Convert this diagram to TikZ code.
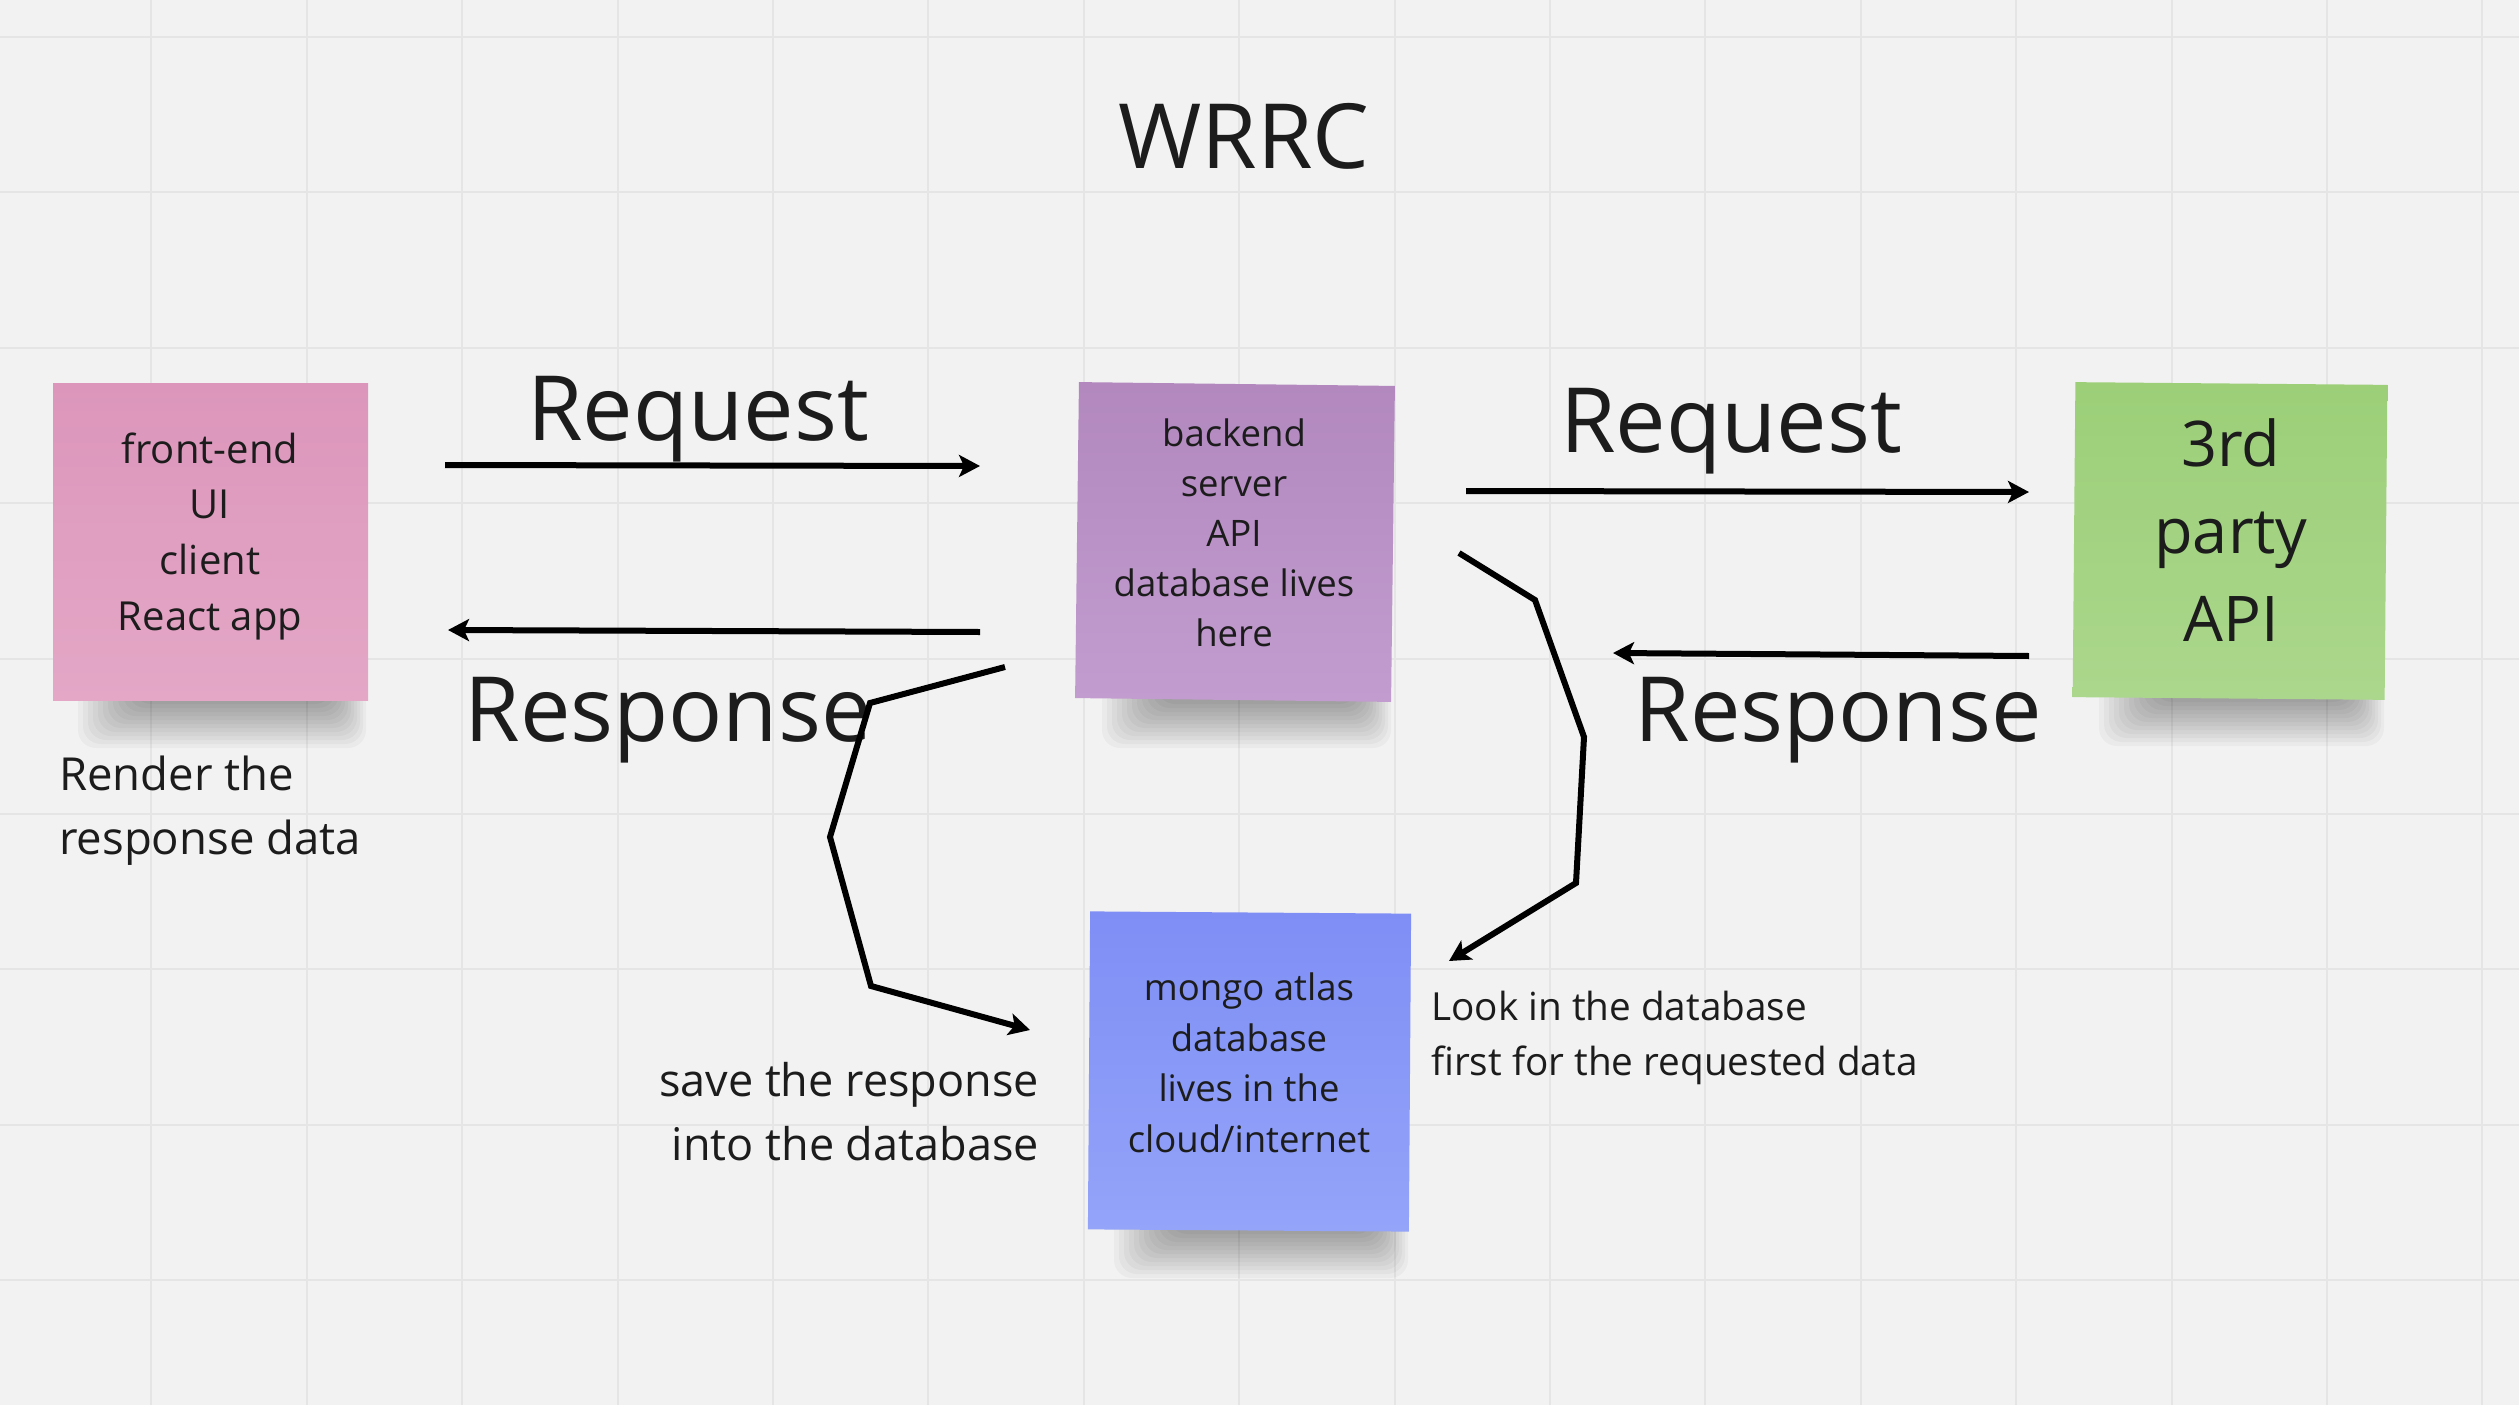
\documentclass[tikz,border=0pt]{standalone}
\usepackage{fontspec}
\setmainfont{Open Sans}
\usetikzlibrary{arrows.meta}
\definecolor{bgc}{RGB}{242,242,242}
\definecolor{gridc}{RGB}{229,229,229}
\definecolor{ink}{RGB}{28,28,28}
\definecolor{pinkT}{RGB}{220,150,187}
\definecolor{pinkB}{RGB}{228,167,198}
\definecolor{purpT}{RGB}{178,136,191}
\definecolor{purpB}{RGB}{194,156,207}
\definecolor{grnT}{RGB}{156,207,120}
\definecolor{grnB}{RGB}{171,215,140}
\definecolor{bluT}{RGB}{126,142,245}
\definecolor{bluB}{RGB}{148,164,249}
\newcommand\setfs[2]{\fontsize{#1}{#2}\selectfont}
\newcommand\stickyshadow[3]{%
  \foreach \i in {0,...,11}{%
    \fill[black,opacity=0.032,rounded corners=18pt]
      ({#1+25+5*\i},{#3-20}) rectangle ({#2-2-3*\i},{#3+48-4*\i});
  }%
}
\tikzset{
  gridline/.style={gridc, line width=2pt},
  sticky/.style={draw=none, inner sep=0pt, rectangle},
  notetext/.style={text=ink, align=center, inner sep=0pt, anchor=base},
  bigword/.style={text=ink, inner sep=0pt, anchor=base, font=\setfs{90}{110}},
  remark/.style={text=ink, inner sep=0pt},
  arr/.style={line width=6pt, black, -{Stealth[length=21pt,width=22pt,inset=5pt]}},
}
\begin{document}
\begin{tikzpicture}[x=1pt,y=-1pt]
\useasboundingbox (0,0) rectangle (2519,1405);
\fill[bgc] (0,0) rectangle (2519,1405);
\foreach \k in {1,...,16} \draw[gridline] ({-4+155.4*\k},0) -- ({-4+155.4*\k},1405);
\foreach \k in {0,...,8} \draw[gridline] (0,{37+155.4*\k}) -- (2519,{37+155.4*\k});

% shadows
\stickyshadow{53}{368}{700}
\stickyshadow{1077}{1393}{700}
\stickyshadow{2074}{2386}{698}
\stickyshadow{1089}{1410}{1230}

% sticky notes
\node[sticky, minimum width=315pt, minimum height=317pt, top color=pinkT, bottom color=pinkB] (front) at (210.5,541.5) {};
\node[sticky, minimum width=316pt, minimum height=316pt, top color=purpT, bottom color=purpB, rotate=-0.7] (back) at (1235,542) {};
\node[sticky, minimum width=312pt, minimum height=315pt, top color=grnT, bottom color=grnB, rotate=-0.5] (third) at (2230,541) {};
\node[sticky, minimum width=321pt, minimum height=318pt, top color=bluT, bottom color=bluB, rotate=-0.4] (mongo) at (1249.5,1071.5) {};

% note texts (base anchor = baseline of the last line)
\node[notetext, font=\setfs{40}{55.6}] (fronttxt) at (210,630) {front-end\\UI\\client\\React app};
\node[notetext, font=\setfs{36.5}{50.1}] (backtxt) at (1234,646.5) {backend\\server\\API\\database lives\\here};
\node[notetext, font=\setfs{63}{87.5}] (thirdtxt) at (2231,641) {3rd\\party\\API};
\node[notetext, font=\setfs{36.5}{50.4}] (mongotxt) at (1249,1152) {mongo atlas\\database\\lives in the\\cloud/internet};

% title and big labels
\node[bigword] (title) at (1244,168) {WRRC};
\node[bigword] (reqL) at (698,440) {Request};
\node[bigword] (rspL) at (668,741) {Response};
\node[bigword] (reqR) at (1731,452) {Request};
\node[bigword] (rspR) at (1838,741) {Response};

% remarks
\node[remark, anchor=base west, align=left, font=\setfs{45.5}{64}] (render) at (59,854) {Render the\\response data};
\node[remark, anchor=base east, align=right, font=\setfs{45}{64}] (save) at (1039,1160) {save the response\\into the database};
\node[remark, anchor=base west, align=left, font=\setfs{38.7}{55}] (look) at (1431,1075) {Look in the database\\first for the requested data};

% connector points
\coordinate (rq1s) at (445,465);
\coordinate (rq1e) at (980,466);
\coordinate (rs1s) at (980,632);
\coordinate (rs1e) at (448,630);
\coordinate (rq2s) at (1466,491);
\coordinate (rq2e) at (2029,492);
\coordinate (rs2s) at (2029,656);
\coordinate (rs2e) at (1613,653);
\coordinate (lk0) at (1459,553);
\coordinate (lk1) at (1535,600);
\coordinate (lk2) at (1584,737);
\coordinate (lk3) at (1576,883);
\coordinate (lk4) at (1449,961);
\coordinate (sv0) at (1005,667);
\coordinate (sv1) at (870,703);
\coordinate (sv2) at (830,837);
\coordinate (sv3) at (871,986);
\coordinate (sv4) at (1030,1030);

\draw[arr] (rq1s) -- (rq1e);
\draw[arr] (rs1s) -- (rs1e);
\draw[arr] (rq2s) -- (rq2e);
\draw[arr] (rs2s) -- (rs2e);
\draw[arr] (lk0) -- (lk1) -- (lk2) -- (lk3) -- (lk4);
\draw[arr] (sv0) -- (sv1) -- (sv2) -- (sv3) -- (sv4);
\end{tikzpicture}
\end{document}
